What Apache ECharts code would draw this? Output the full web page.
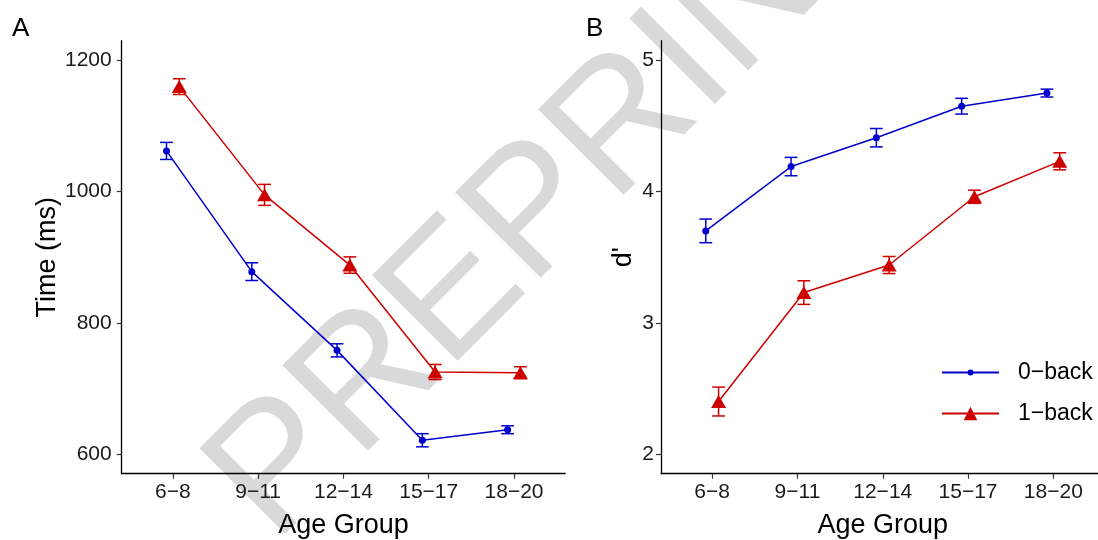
<!DOCTYPE html>
<html>
<head>
<meta charset="utf-8">
<script src="https://cdn.jsdelivr.net/npm/echarts@6/dist/echarts.min.js"></script>
<style>
  html, body { margin: 0; padding: 0; background: #fff; }
  #chart { width: 1098px; height: 540px; }
</style>
</head>
<body>
<div id="chart"></div>
<script>
// ---- data ----
const categories = ['6\u22128', '9\u221211', '12\u221214', '15\u221217', '18\u221220'];
const seriesNames = ['0\u2212back', '1\u2212back'];
const rt0 = [1062, 878, 758, 621, 637];
const rt0Se = [13, 13.5, 10, 10, 6];
const rt1 = [1160, 995, 888, 725, 724];
const rt1Se = [12, 16, 12.5, 11.5, 9];
const dp0 = [3.70, 4.19, 4.41, 4.65, 4.75];
const dp0Se = [0.09, 0.07, 0.07, 0.06, 0.03];
const dp1 = [2.40, 3.23, 3.44, 3.96, 4.23];
const dp1Se = [0.11, 0.09, 0.065, 0.05, 0.065];
const yTicksRT = [600, 800, 1000, 1200];
const yTicksDP = [2, 3, 4, 5];
const xTickPos = [1, 2, 3, 4, 5];

// ---- style ----
const FONT = '"Liberation Sans", Arial, Helvetica, sans-serif';
const BLUE = '#0000CD';
const RED = '#CD0000';
const DODGE = 0.075;

function pts(vals, off) { return vals.map((v, i) => [i + 1 + off, v]); }
function errs(vals, se, off) { return vals.map((v, i) => [i + 1 + off, v - se[i], v + se[i]]); }

function errRender(color) {
  return function (params, api) {
    const x = api.value(0), lo = api.value(1), hi = api.value(2);
    const a = api.coord([x, hi]);
    const b = api.coord([x, lo]);
    const hw = api.size([0.15, 0])[0] / 2;
    const st = { stroke: color, lineWidth: 1.5 };
    return {
      type: 'group',
      children: [
        { type: 'line', shape: { x1: a[0], y1: a[1], x2: b[0], y2: b[1] }, style: st },
        { type: 'line', shape: { x1: a[0] - hw, y1: a[1], x2: a[0] + hw, y2: a[1] }, style: st },
        { type: 'line', shape: { x1: b[0] - hw, y1: b[1], x2: b[0] + hw, y2: b[1] }, style: st }
      ]
    };
  };
}

function xAxisOpt(gi) {
  return {
    type: 'value', gridIndex: gi, min: 0.4, max: 5.6,
    name: 'Age Group', nameLocation: 'middle', nameGap: 38,
    nameTextStyle: { fontSize: 27, color: '#000', fontFamily: FONT },
    axisLine: { show: true, lineStyle: { color: '#000', width: 1.3 } },
    axisTick: { show: true, customValues: xTickPos, length: 5, lineStyle: { color: '#333', width: 1.2 } },
    axisLabel: { customValues: xTickPos, formatter: v => categories[Math.round(v) - 1], fontSize: 21, color: '#1a1a1a', fontFamily: FONT, margin: 8 },
    splitLine: { show: false }
  };
}

function yAxisOpt(gi, min, max, ticks, name, nameGap, margin) {
  return {
    type: 'value', gridIndex: gi, min: min, max: max,
    name: name, nameLocation: 'middle', nameGap: nameGap,
    nameTextStyle: { fontSize: 27, color: '#000', fontFamily: FONT },
    axisLine: { show: true, lineStyle: { color: '#000', width: 1.3 } },
    axisTick: { show: true, customValues: ticks, length: 5, lineStyle: { color: '#333', width: 1.2 } },
    axisLabel: { customValues: ticks, formatter: v => String(v), fontSize: 21, color: '#1a1a1a', fontFamily: FONT, margin: margin },
    splitLine: { show: false }
  };
}

function lineSeries(name, data, color, symbol, size, gi) {
  return {
    type: 'line', name: name, xAxisIndex: gi, yAxisIndex: gi, data: data,
    symbol: symbol, symbolSize: size, showSymbol: true,
    lineStyle: { color: color, width: 1.5 },
    itemStyle: { color: color },
    emphasis: { disabled: true }, z: 3
  };
}

function errSeries(name, data, color, gi) {
  return {
    type: 'custom', name: name, xAxisIndex: gi, yAxisIndex: gi, data: data,
    encode: { x: 0, y: [1, 2] }, renderItem: errRender(color), z: 4, silent: true
  };
}

const chart = echarts.init(document.getElementById('chart'), null, { renderer: 'canvas' });
chart.setOption({
  animation: false,
  backgroundColor: '#fff',
  textStyle: { fontFamily: FONT },
  title: [
    { text: 'A', left: 12, top: 16, padding: 0, textStyle: { fontSize: 26, fontWeight: 'normal', color: '#000', fontFamily: FONT } },
    { text: 'B', left: 586, top: 16, padding: 0, textStyle: { fontSize: 26, fontWeight: 'normal', color: '#000', fontFamily: FONT } }
  ],
  graphic: [{
    type: 'text', x: 555, y: 195, rotation: Math.PI / 4, z: -10, silent: true,
    style: { text: 'PREPRINT', fontSize: 176, fontFamily: FONT, fill: '#d9d9d9', align: 'center', verticalAlign: 'middle' }
  }],
  legend: [
    { data: [seriesNames[0]], left: 941, top: 361, padding: 0, itemWidth: 57, itemHeight: 7.5,
      textStyle: { fontSize: 23, color: '#000', fontFamily: FONT, padding: [0, 0, 0, 14] }, selectedMode: false },
    { data: [seriesNames[1]], left: 941, top: 402, padding: 0, itemWidth: 57, itemHeight: 17,
      textStyle: { fontSize: 23, color: '#000', fontFamily: FONT, padding: [0, 0, 0, 14] }, selectedMode: false }
  ],
  grid: [
    { left: 121.7, top: 40.7, width: 443.5, height: 433, containLabel: false, outerBoundsMode: 'none' },
    { left: 661, top: 40.7, width: 443.5, height: 433, containLabel: false, outerBoundsMode: 'none' }
  ],
  xAxis: [xAxisOpt(0), xAxisOpt(1)],
  yAxis: [
    yAxisOpt(0, 570, 1230, yTicksRT, 'Time (ms)', 59, 10),
    yAxisOpt(1, 1.85, 5.149, yTicksDP, "d'", 24, 7)
  ],
  series: [
    lineSeries(seriesNames[0], pts(rt0, -DODGE), BLUE, 'circle', 7, 0),
    lineSeries(seriesNames[1], pts(rt1, DODGE), RED, 'triangle', [15, 13], 0),
    errSeries(seriesNames[0], errs(rt0, rt0Se, -DODGE), BLUE, 0),
    errSeries(seriesNames[1], errs(rt1, rt1Se, DODGE), RED, 0),
    lineSeries(seriesNames[0], pts(dp0, -DODGE), BLUE, 'circle', 7, 1),
    lineSeries(seriesNames[1], pts(dp1, DODGE), RED, 'triangle', [15, 13], 1),
    errSeries(seriesNames[0], errs(dp0, dp0Se, -DODGE), BLUE, 1),
    errSeries(seriesNames[1], errs(dp1, dp1Se, DODGE), RED, 1)
  ]
});
</script>
</body>
</html>
